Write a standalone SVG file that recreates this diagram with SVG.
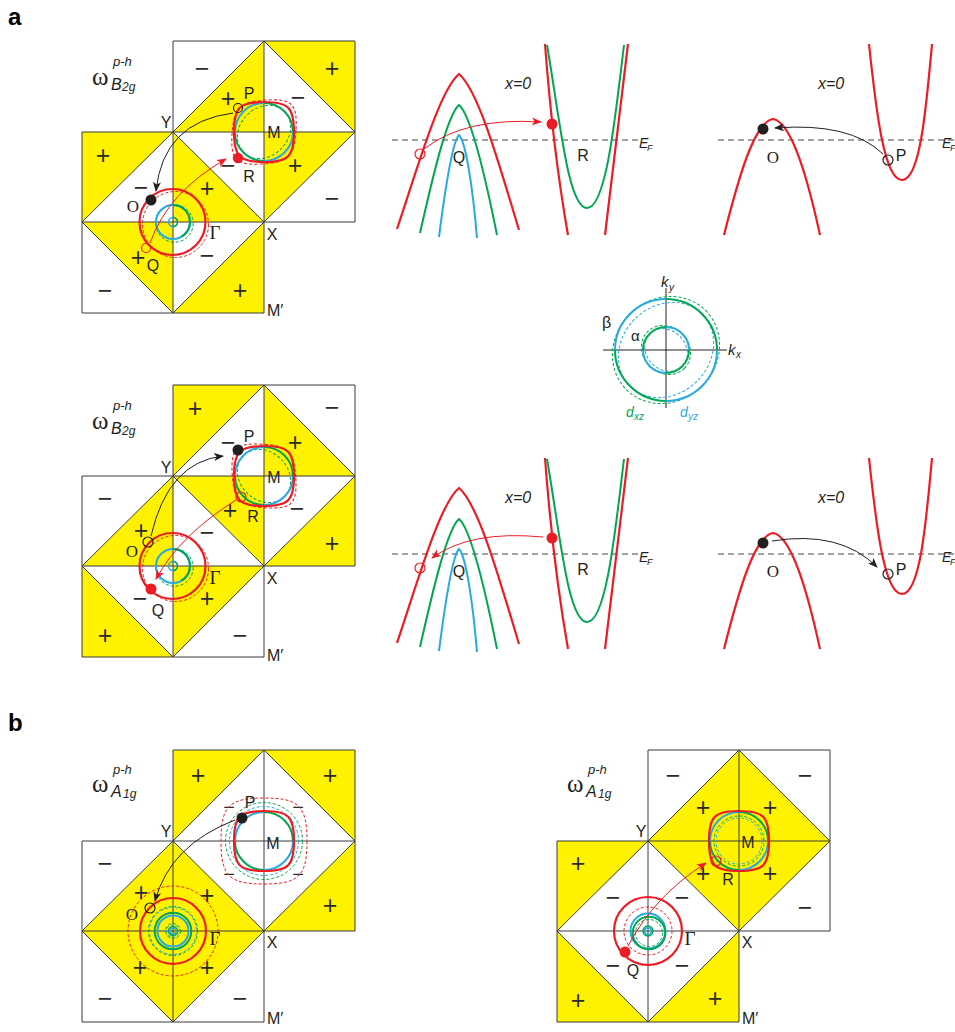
<svg xmlns="http://www.w3.org/2000/svg" xmlns:xlink="http://www.w3.org/1999/xlink" width="955" height="1032" viewBox="0 0 955 1032">
<style>
.y{fill:#FFF200;stroke:none}
.gl{stroke:#3a3a3a;stroke-width:1;fill:none}
.sg{font-family:"Liberation Sans",Arial,sans-serif;font-size:25px;fill:#2b2b2b;text-anchor:middle}
.sm{font-family:"Liberation Sans",Arial,sans-serif;font-size:20px;fill:#2b2b2b;text-anchor:middle}
.lb{font-family:"Liberation Sans",Arial,sans-serif;font-size:16px;fill:#231f20;text-anchor:middle}
.ls{font-family:"Liberation Serif","Times New Roman",serif;font-size:17px;fill:#231f20;text-anchor:middle}
.gm{font-family:"Liberation Serif","Times New Roman",serif;font-size:19px;fill:#231f20;text-anchor:middle}
.it{font-family:"Liberation Sans",Arial,sans-serif;font-style:italic;fill:#231f20}
.om{font-family:"Liberation Serif","Times New Roman",serif;font-size:25px;fill:#231f20}
.pl{font-family:"Liberation Sans",Arial,sans-serif;font-weight:bold;font-size:24px;fill:#000}
.r{stroke:#ED1C24;stroke-width:2.2;fill:none}
.rd{stroke:#ED1C24;stroke-width:1;fill:none;stroke-dasharray:3 2}
.g{stroke:#00A651;stroke-width:2;fill:none}
.gd{stroke:#00A651;stroke-width:1;fill:none;stroke-dasharray:3 2}
.b{stroke:#27AAE1;stroke-width:2;fill:none}
.bd{stroke:#27AAE1;stroke-width:1;fill:none;stroke-dasharray:3 2}
.thin{stroke-width:1.5}
.ef{stroke:#444;stroke-width:1;stroke-dasharray:6 4;fill:none}
.ak{stroke:#231f20;stroke-width:1;fill:none;marker-end:url(#mk)}
.akr{stroke:#ED1C24;stroke-width:1;fill:none;marker-end:url(#mkr)}
.oc{fill:none;stroke:#231f20;stroke-width:1.2}
.ocr{fill:none;stroke:#ED1C24;stroke-width:1.2}
.dot{fill:#231f20}
.dotr{fill:#ED1C24}
.ax{stroke:#231f20;stroke-width:1;fill:none}
</style>
<defs>
<marker id="mk" viewBox="0 0 10 8" refX="9" refY="4" markerWidth="10" markerHeight="8" markerUnits="userSpaceOnUse" orient="auto"><path d="M0,0 L10,4 L0,8 L2.5,4 Z" fill="#231f20"/></marker>
<marker id="mkr" viewBox="0 0 10 8" refX="9" refY="4" markerWidth="10" markerHeight="8" markerUnits="userSpaceOnUse" orient="auto"><path d="M0,0 L10,4 L0,8 L2.5,4 Z" fill="#ED1C24"/></marker>
<path id="sq" d="M30,0 C30,24.5 24.5,30 0,30 C-24.5,30 -30,24.5 -30,0 C-30,-24.5 -24.5,-30 0,-30 C24.5,-30 30,-24.5 30,0 Z"/>
<path id="sqL" d="M43,0 C43,35 35,43 0,43 C-35,43 -43,35 -43,0 C-43,-35 -35,-43 0,-43 C35,-43 43,-35 43,0 Z"/>
<g id="ring4">
<path class="b" d="M-29,0A29,29 0 0 1 0,-29"/>
<path class="g" d="M0,-29A29,29 0 0 1 29,0"/>
<path class="b" d="M29,0A29,29 0 0 1 0,29"/>
<path class="g" d="M0,29A29,29 0 0 1 -29,0"/>
</g>
<path id="grid" class="gl" d="M91,0H273M0,91H273M0,181H273M0,272H182M0,91V272M91,0V272M182,0V272M273,0V181M91,91L182,0L273,91L182,181L91,91M0,181L91,91M0,181L91,272L182,181"/>
<g id="gamA">
<circle class="rd" cx="2.5" cy="2.5" r="33"/>
<circle class="r" cx="-0.5" cy="0" r="33"/>
<circle class="gd" cx="1.5" cy="1.5" r="18.7"/>
<circle class="b" r="17"/>
<path class="g" d="M0,-17 A17,17 0 0 1 8.5,14.7"/>
<circle class="b thin" r="4.5"/>
<path class="g thin" d="M0,-4.5 A4.5,4.5 0 0 1 0,4.5"/>
</g>
</defs>

<text class="pl" x="8" y="25">a</text>
<text class="pl" x="8" y="731">b</text>

<!-- Panel a, top BZ -->
<g id="bz-a1">
<g transform="translate(82,41)">
<polygon class="y" points="182,0 182,91 91,91"/>
<polygon class="y" points="182,0 273,0 273,91"/>
<polygon class="y" points="0,91 91,91 0,181"/>
<polygon class="y" points="91,91 182,181 91,181"/>
<polygon class="y" points="182,91 273,91 182,181"/>
<polygon class="y" points="0,181 91,181 91,272"/>
<polygon class="y" points="182,181 182,272 91,272"/>
<use xlink:href="#grid"/>
</g>
<text class="sg" x="202" y="77">−</text><text class="sg" x="332" y="77">+</text>
<text class="sg" x="228" y="107">+</text><text class="sg" x="298" y="106">−</text>
<text class="sg" x="103" y="164">+</text><text class="sg" x="141" y="196">−</text>
<text class="sg" x="207" y="197">+</text><text class="sg" x="228" y="174">−</text>
<text class="sg" x="295" y="174">+</text><text class="sg" x="332" y="207">−</text>
<text class="sg" x="138" y="266">+</text><text class="sg" x="207" y="264">−</text>
<text class="sg" x="105" y="299">−</text><text class="sg" x="240" y="299">+</text>
<use xlink:href="#gamA" transform="translate(173,222)"/>
<g transform="translate(264,132)">
<use xlink:href="#sq" class="rd" transform="rotate(-45) scale(1.13,1) rotate(45)"/>
<ellipse class="gd" rx="29" ry="24" transform="rotate(-45)"/>
<use xlink:href="#ring4"/>
<use xlink:href="#sq" class="r"/>
</g>
<circle class="oc" cx="238" cy="108" r="4.5"/>
<circle class="dotr" cx="238" cy="158" r="5.2"/>
<circle class="dot" cx="151" cy="200" r="5.5"/>
<circle class="ocr" cx="146" cy="248" r="4.5"/>
<path class="akr" d="M150,243 Q168,192 226,159"/>
<path class="ak" d="M233,113 Q163,122 156,191"/>
<text class="om" x="92" y="85">ω</text>
<text class="it" x="113" y="66" font-size="13">p-h</text>
<text class="it" x="111" y="90" font-size="16">B</text>
<text class="it" x="122" y="91" font-size="12">2g</text>
<text class="lb" x="166" y="128">Y</text>
<text class="lb" x="274" y="138">M</text>
<text class="lb" x="249" y="99">P</text>
<text class="lb" x="249" y="182">R</text>
<text class="ls" x="133" y="212">O</text>
<text class="gm" x="215" y="239">Γ</text>
<text class="lb" x="272" y="240">X</text>
<text class="lb" x="153" y="271">Q</text>
<text class="lb" x="267" y="316" style="text-anchor:start">M′</text>
</g>

<!-- Panel a, bottom BZ -->
<g id="bz-a2">
<g transform="translate(82,385)">
<polygon class="y" points="91,0 182,0 91,91"/>
<polygon class="y" points="182,0 273,91 182,91"/>
<polygon class="y" points="91,91 91,181 0,181"/>
<polygon class="y" points="91,91 182,91 182,181"/>
<polygon class="y" points="273,91 273,181 182,181"/>
<polygon class="y" points="0,181 91,272 0,272"/>
<polygon class="y" points="91,181 182,181 91,272"/>
<use xlink:href="#grid"/>
</g>
<text class="sg" x="195" y="417">+</text><text class="sg" x="332" y="416">−</text>
<text class="sg" x="228" y="451">−</text><text class="sg" x="295" y="451">+</text>
<text class="sg" x="105" y="507">−</text><text class="sg" x="141" y="539">+</text>
<text class="sg" x="207" y="541" fill="#666">−</text><text class="sg" x="230" y="519">+</text>
<text class="sg" x="297" y="517">−</text><text class="sg" x="332" y="552">+</text>
<text class="sg" x="140" y="607">−</text><text class="sg" x="207" y="607">+</text>
<text class="sg" x="105" y="644">+</text><text class="sg" x="240" y="644" fill="#666">−</text>
<use xlink:href="#gamA" transform="translate(173,566)"/>
<g transform="translate(264,476)">
<use xlink:href="#sq" class="rd" transform="rotate(45) scale(1.12,1) rotate(-45)"/>
<ellipse class="gd" rx="29" ry="24" transform="rotate(45)"/>
<use xlink:href="#ring4"/>
<use xlink:href="#sq" class="r"/>
</g>
<circle class="oc" cx="148" cy="542" r="5"/>
<circle class="dotr" cx="151" cy="589" r="5.5"/>
<circle class="dot" cx="238" cy="450" r="5.5"/>
<circle class="ocr" cx="241" cy="497" r="5"/>
<path class="ak" d="M151,536 Q168,462 223,456"/>
<path class="akr" d="M236,500 Q180,535 156,579"/>
<text class="om" x="92" y="429">ω</text>
<text class="it" x="113" y="410" font-size="13">p-h</text>
<text class="it" x="111" y="434" font-size="16">B</text>
<text class="it" x="122" y="435" font-size="12">2g</text>
<text class="lb" x="166" y="473">Y</text>
<text class="lb" x="274" y="483">M</text>
<text class="lb" x="249" y="442">P</text>
<text class="lb" x="253" y="522">R</text>
<text class="ls" x="132" y="557">O</text>
<text class="gm" x="215" y="584">Γ</text>
<text class="lb" x="272" y="584">X</text>
<text class="lb" x="158" y="616">Q</text>
<text class="lb" x="267" y="661" style="text-anchor:start">M′</text>
</g>

<!-- Panel b, left BZ -->
<g id="bz-b1">
<g transform="translate(82,750)">
<polygon class="y" points="91,0 182,0 91,91"/>
<polygon class="y" points="182,0 273,0 273,91"/>
<polygon class="y" points="91,91 91,181 0,181"/>
<polygon class="y" points="91,91 182,181 91,181"/>
<polygon class="y" points="273,91 273,181 182,181"/>
<polygon class="y" points="0,181 91,181 91,272"/>
<polygon class="y" points="91,181 182,181 91,272"/>
<use xlink:href="#grid"/>
</g>
<text class="sg" x="198" y="784">+</text><text class="sg" x="330" y="784">+</text>
<text class="sg" x="105" y="872">−</text><text class="sg" x="330" y="914">+</text>
<text class="sg" x="141" y="901">+</text><text class="sg" x="207" y="904">+</text>
<text class="sg" x="140" y="976">+</text><text class="sg" x="207" y="976">+</text>
<text class="sg" x="105" y="1007" fill="#555">−</text><text class="sg" x="240" y="1007" fill="#555">−</text>
<text class="sm" x="229" y="814">−</text><text class="sm" x="298" y="814">−</text>
<text class="sm" x="229" y="881">−</text><text class="sm" x="298" y="881">−</text>
<g transform="translate(173,931)">
<circle class="rd" r="45"/>
<circle class="r" r="33"/>
<circle class="gd" r="24.5"/>
<circle class="bd" r="23.5" stroke-dashoffset="2.5"/>
<circle class="g" r="18.3"/>
<circle class="b" r="15.5"/>
<circle class="gd" r="7.5"/>
<circle class="bd" r="6.5" stroke-dashoffset="2.5"/>
<circle class="g thin" r="4.5"/>
<circle class="b thin" r="3"/>
</g>
<g transform="translate(264,841)">
<use xlink:href="#sqL" class="rd"/>
<circle class="gd" r="38.5"/>
<circle class="bd" r="34.5"/>
<use xlink:href="#ring4"/>
<use xlink:href="#sq" class="r"/>
</g>
<circle class="dot" cx="242" cy="818" r="5.5"/>
<circle class="oc" cx="150" cy="908" r="5"/>
<path class="ak" d="M235,820 Q170,845 155,901"/>
<text class="om" x="92" y="792">ω</text>
<text class="it" x="113" y="774" font-size="13">p-h</text>
<text class="it" x="111" y="797" font-size="16">A</text>
<text class="it" x="123" y="798" font-size="12">1g</text>
<text class="lb" x="166" y="837">Y</text>
<text class="lb" x="273" y="849">M</text>
<text class="lb" x="250" y="808">P</text>
<text class="ls" x="132" y="920">O</text>
<text class="gm" x="215" y="945">Γ</text>
<text class="lb" x="272" y="948">X</text>
<text class="lb" x="267" y="1024" style="text-anchor:start">M′</text>
</g>

<!-- Panel b, right BZ -->
<g id="bz-b2">
<g transform="translate(557,750)">
<polygon class="y" points="182,0 182,91 91,91"/>
<polygon class="y" points="182,0 273,91 182,91"/>
<polygon class="y" points="0,91 91,91 0,181"/>
<polygon class="y" points="91,91 182,91 182,181"/>
<polygon class="y" points="182,91 273,91 182,181"/>
<polygon class="y" points="0,181 91,272 0,272"/>
<polygon class="y" points="182,181 182,272 91,272"/>
<use xlink:href="#grid"/>
</g>
<text class="sg" x="673" y="784" fill="#555">−</text><text class="sg" x="805" y="784" fill="#555">−</text>
<text class="sg" x="703" y="816">+</text><text class="sg" x="770" y="816">+</text>
<text class="sg" x="578" y="872">+</text><text class="sg" x="613" y="906">−</text>
<text class="sg" x="682" y="906">−</text><text class="sg" x="703" y="882">+</text>
<text class="sg" x="770" y="882">+</text><text class="sg" x="805" y="916" fill="#555">−</text>
<text class="sg" x="613" y="974">−</text><text class="sg" x="682" y="974">−</text>
<text class="sg" x="578" y="1009">+</text><text class="sg" x="715" y="1007">+</text>
<g transform="translate(648,931)">
<circle class="r" r="34"/>
<circle class="rd" r="24"/>
<circle class="gd" cx="1" cy="2" r="13.5"/>
<circle class="b" r="17.5"/>
<circle class="g" cx="1" cy="2" r="16.3"/>
<circle class="g thin" r="5"/>
<circle class="b thin" r="3.3"/>
</g>
<g transform="translate(739,841)">
<circle class="bd" r="23"/>
<circle class="gd" r="25" stroke-dashoffset="2.5"/>
<use xlink:href="#ring4"/>
<use xlink:href="#sq" class="r"/>
</g>
<circle class="ocr" cx="716" cy="861" r="5"/>
<circle class="dotr" cx="625" cy="952" r="5.5"/>
<path class="akr" d="M628,946 Q655,895 706,863"/>
<text class="om" x="567" y="792">ω</text>
<text class="it" x="588" y="774" font-size="13">p-h</text>
<text class="it" x="586" y="797" font-size="16">A</text>
<text class="it" x="598" y="798" font-size="12">1g</text>
<text class="lb" x="641" y="837">Y</text>
<text class="lb" x="748" y="848">M</text>
<text class="lb" x="728" y="885">R</text>
<text class="gm" x="690" y="945">Γ</text>
<text class="lb" x="747" y="948">X</text>
<text class="lb" x="633" y="976">Q</text>
<text class="lb" x="742" y="1024" style="text-anchor:start">M′</text>
</g>

<!-- Band panels, top row -->
<g id="bands-1">
<line class="ef" x1="392" y1="140" x2="638" y2="140"/>
<path class="r" d="M397,229 C420,160 440,90 459,74 C478,90 498,160 519,230"/>
<path class="g" d="M420,233 C432,180 447,115 459,105 C471,115 486,180 497,235"/>
<path class="b" d="M439,237 C445,190 452,142 459,135 C466,142 473,190 477,238"/>
<path class="r" d="M545,44 Q553,150 568,235"/>
<path class="r" d="M628,44 Q615,150 605,235"/>
<path class="g" d="M547,45 C560,120 568,208 587,208 C606,208 615,120 624,45"/>
<circle class="ocr" cx="420" cy="154" r="5"/>
<circle class="dotr" cx="552" cy="124" r="5.5"/>
<path class="akr" d="M424,149 Q465,117 541,122"/>
<text class="lb" x="459" y="163">Q</text>
<text class="lb" x="583" y="161">R</text>
<text class="it" x="505" y="89" font-size="16">x=0</text>
<text class="it" x="639" y="148" font-size="14">E</text><text class="it" x="647" y="151" font-size="9">F</text>

<line class="ef" x1="718" y1="140" x2="955" y2="140"/>
<path class="r" d="M724,235 C738,180 754,122 773,119 C792,122 808,180 820,235"/>
<path class="r" d="M869,44 C876,110 884,180 902,180 C920,180 926,110 932,44"/>
<circle class="dot" cx="763" cy="129" r="5.5"/>
<circle class="oc" cx="888" cy="160" r="5"/>
<path class="ak" d="M883,154 Q850,122 775,128"/>
<text class="ls" x="773" y="163">O</text>
<text class="lb" x="901" y="161">P</text>
<text class="it" x="818" y="89" font-size="16">x=0</text>
<text class="it" x="942" y="148" font-size="14">E</text><text class="it" x="950" y="151" font-size="9">F</text>
</g>

<!-- Band panels, bottom row -->
<g id="bands-2">
<g transform="translate(0,414)">
<line class="ef" x1="392" y1="140" x2="638" y2="140"/>
<path class="r" d="M397,229 C420,160 440,90 459,74 C478,90 498,160 519,230"/>
<path class="g" d="M420,233 C432,180 447,115 459,105 C471,115 486,180 497,235"/>
<path class="b" d="M439,237 C445,190 452,142 459,135 C466,142 473,190 477,238"/>
<path class="r" d="M545,44 Q553,150 568,235"/>
<path class="r" d="M628,44 Q615,150 605,235"/>
<path class="g" d="M547,45 C560,120 568,208 587,208 C606,208 615,120 624,45"/>
<circle class="ocr" cx="420" cy="154" r="5"/>
<circle class="dotr" cx="552" cy="124" r="5.5"/>
<text class="lb" x="459" y="163">Q</text>
<text class="lb" x="583" y="161">R</text>
<text class="it" x="505" y="89" font-size="16">x=0</text>
<text class="it" x="639" y="148" font-size="14">E</text><text class="it" x="647" y="151" font-size="9">F</text>
<line class="ef" x1="718" y1="140" x2="955" y2="140"/>
<path class="r" d="M724,235 C738,180 754,122 773,119 C792,122 808,180 820,235"/>
<path class="r" d="M869,44 C876,110 884,180 902,180 C920,180 926,110 932,44"/>
<circle class="dot" cx="763" cy="129" r="5.5"/>
<circle class="oc" cx="888" cy="160" r="5"/>
<text class="ls" x="773" y="163">O</text>
<text class="lb" x="901" y="161">P</text>
<text class="it" x="818" y="89" font-size="16">x=0</text>
<text class="it" x="942" y="148" font-size="14">E</text><text class="it" x="950" y="151" font-size="9">F</text>
</g>
<path class="akr" d="M543,537 Q470,530 432,558"/>
<path class="ak" d="M772,541 Q840,530 877,567"/>
</g>

<!-- Legend -->
<g id="legend">
<line class="ax" x1="603" y1="350" x2="727" y2="350"/>
<line class="ax" x1="666" y1="288" x2="666" y2="408"/>
<g transform="translate(666,350)">
<ellipse class="gd" rx="56" ry="51" transform="rotate(-45)"/>
<ellipse class="bd" rx="51" ry="44" transform="rotate(-45)"/>
<path class="b" d="M-51,0A51,51 0 0 1 0,-51"/>
<path class="g" d="M0,-51A51,51 0 0 1 51,0"/>
<path class="b" d="M51,0A51,51 0 0 1 0,51"/>
<path class="g" d="M0,51A51,51 0 0 1 -51,0"/>
<ellipse class="gd" rx="26" ry="23" transform="rotate(45)"/>
<ellipse class="bd" rx="23" ry="19.5" transform="rotate(45)"/>
<path class="g" d="M-23,0A23,23 0 0 1 0,-23"/>
<path class="b" d="M0,-23A23,23 0 0 1 23,0"/>
<path class="g" d="M23,0A23,23 0 0 1 0,23"/>
<path class="b" d="M0,23A23,23 0 0 1 -23,0"/>
</g>
<text class="it" x="661" y="287" font-size="15">k</text><text class="it" x="669" y="291" font-size="10">y</text>
<text class="it" x="728" y="355" font-size="15">k</text><text class="it" x="736" y="358" font-size="10">x</text>
<text x="602" y="328" font-family="Liberation Sans, Arial, sans-serif" font-size="16" fill="#231f20">β</text>
<text x="631" y="341" font-family="Liberation Sans, Arial, sans-serif" font-size="15" fill="#231f20">α</text>
<text class="it" x="626" y="417" font-size="14" style="fill:#00A651">d</text><text class="it" x="634" y="420" font-size="10" style="fill:#00A651">xz</text>
<text class="it" x="680" y="417" font-size="14" style="fill:#27AAE1">d</text><text class="it" x="688" y="420" font-size="10" style="fill:#27AAE1">yz</text>
</g>
</svg>
